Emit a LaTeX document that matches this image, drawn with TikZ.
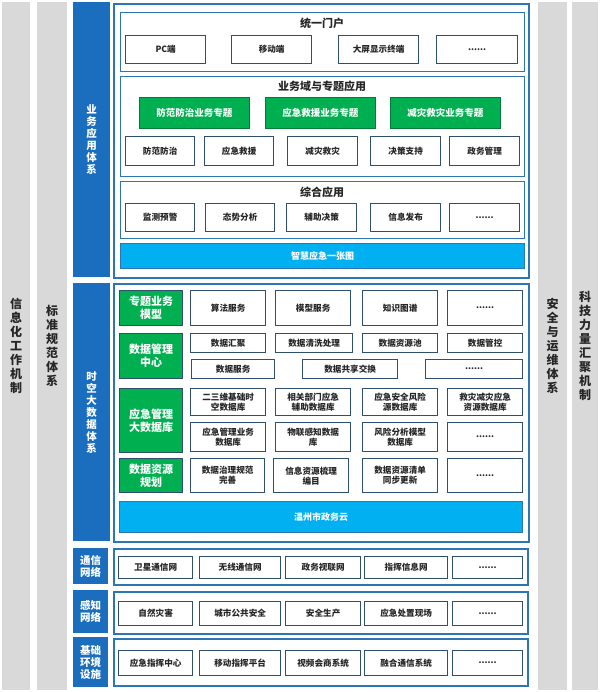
\documentclass[tikz,border=0pt]{standalone}
\usepackage{fontspec}
\newfontfamily\cjk{Noto Sans CJK SC}
\definecolor{lblue}{HTML}{1A6EBD}
\definecolor{fblue}{HTML}{2E75B6}
\definecolor{itc}{HTML}{2F4F6F}
\definecolor{gbar}{HTML}{D9D9D9}
\definecolor{gr}{HTML}{00B050}
\definecolor{cy}{HTML}{00B0F0}
\tikzset{
 item/.style={draw=itc,line width=1.3pt,fill=white,font=\cjk\bfseries\fontsize{8.6}{10}\selectfont,align=center,inner sep=0pt,text=black!85},
 panel/.style={draw=fblue,line width=1.3pt,fill=white,inner sep=0pt},
 frame/.style={draw=fblue,line width=2pt,fill=white,inner sep=0pt},
 lbar/.style={fill=lblue,draw=none,text=white,font=\cjk\bfseries\fontsize{10.5}{12}\selectfont,align=center,inner sep=0pt},
 gbarst/.style={fill=gbar,draw=none,text=black!85,font=\cjk\bfseries\fontsize{12}{14}\selectfont,align=center,inner sep=0pt},
 grn/.style={fill=gr,draw=gr!70!black,line width=0.6pt,text=white,font=\cjk\bfseries\fontsize{9.5}{11.5}\selectfont,align=center,inner sep=0pt},
 glab/.style={fill=gr,draw=itc,line width=1.3pt,text=white,font=\cjk\bfseries\fontsize{11}{13}\selectfont,align=center,inner sep=0pt},
 cyb/.style={fill=cy,draw=fblue,line width=1pt,text=white,font=\cjk\bfseries\fontsize{9}{11}\selectfont,align=center,inner sep=0pt},
 ttl/.style={font=\cjk\bfseries\fontsize{11}{13}\selectfont,text=black!85,inner sep=0pt}
}
\newcommand\bx[7][item]{\node[#1,anchor=north west,minimum width={(#5-#3)*1pt},minimum height={(#6-#4)*1pt}] (#2) at (#3,#4) {#7};}
\begin{document}
\begin{tikzpicture}[x=1pt,y=-1pt]
\useasboundingbox (0,0) rectangle (600,692);
% grey side bars
\bx[gbarst]{g1}{2}{2}{30}{690}{信\\息\\化\\工\\作\\机\\制}
\bx[gbarst]{g2}{37}{2}{67}{690}{标\\准\\规\\范\\体\\系}
\bx[gbarst]{g3}{538}{2}{567}{690}{安\\全\\与\\运\\维\\体\\系}
\bx[gbarst]{g4}{572}{2}{598}{690}{科\\技\\力\\量\\汇\\聚\\机\\制}
% section 1
\bx[lbar]{l1}{73}{2}{110}{277}{业\\务\\应\\用\\体\\系}
\bx[frame]{f1}{113}{3}{528}{277}{}
\bx[panel]{p1}{120}{12}{524}{71}{}
\node[ttl] (t1) at (322,23) {统一门户};
\bx{a1}{125}{35}{205}{63}{PC端}
\bx{a2}{231}{35}{311}{63}{移动端}
\bx{a3}{338}{35}{418}{63}{大屏显示终端}
\bx{a4}{436}{35}{517}{63}{......}
\bx[panel]{p2}{120}{76}{524}{176}{}
\node[ttl] (t2) at (322,86) {业务域与专题应用};
\bx[grn]{b1}{139}{97}{249}{128}{防范防治业务专题}
\bx[grn]{b2}{265}{97}{375}{128}{应急救援业务专题}
\bx[grn]{b3}{390}{97}{500}{128}{减灾救灾业务专题}
\bx{c1}{125}{136}{194}{165}{防范防治}
\bx{c2}{204}{136}{273}{165}{应急救援}
\bx{c3}{287}{136}{357}{165}{减灾救灾}
\bx{c4}{370}{136}{440}{165}{决策支持}
\bx{c5}{449}{136}{519}{165}{政务管理}
\bx[panel]{p3}{120}{181}{524}{238}{}
\node[ttl] (t3) at (322,192) {综合应用};
\bx{d1}{125}{203}{194}{231}{监测预警}
\bx{d2}{205}{203}{274}{231}{态势分析}
\bx{d3}{286}{203}{356}{231}{辅助决策}
\bx{d4}{370}{203}{440}{231}{信息发布}
\bx{d5}{449}{203}{519}{231}{......}
\bx[cyb]{e1}{120}{243}{524}{268}{智慧应急一张图}
% section 2
\bx[lbar]{l2}{73}{283}{110}{541}{时\\空\\大\\数\\据\\体\\系}
\bx[frame]{f2}{113}{283}{528}{541}{}
\bx[glab]{h1}{119}{290}{182}{325}{专题业务\\模型}
\bx{i1}{190}{290}{265}{325}{算法服务}
\bx{i2}{275}{290}{350}{325}{模型服务}
\bx{i3}{362}{290}{437}{325}{知识图谱}
\bx{i4}{447}{290}{522}{325}{......}
\bx[glab]{h2}{119}{333}{182}{378}{数据管理\\中心}
\bx{j1}{190}{333}{265}{352}{数据汇聚}
\bx{j2}{275}{333}{352}{352}{数据清洗处理}
\bx{j3}{362}{333}{437}{352}{数据资源池}
\bx{j4}{447}{333}{522}{352}{数据管控}
\bx{j5}{191}{359}{274}{378}{数据服务}
\bx{j6}{302}{359}{397}{378}{数据共享交换}
\bx{j7}{425}{359}{522}{378}{......}
\bx[glab]{h3}{119}{388}{182}{452}{应急管理\\大数据库}
\bx{k1}{190}{388}{265}{415}{二三维基础时\\空数据库}
\bx{k2}{275}{388}{350}{415}{相关部门应急\\辅助数据库}
\bx{k3}{362}{388}{437}{415}{应急安全风险\\源数据库}
\bx{k4}{447}{388}{522}{415}{救灾减灾应急\\资源数据库}
\bx{k5}{190}{422}{265}{451}{应急管理业务\\数据库}
\bx{k6}{275}{422}{350}{451}{物联感知数据\\库}
\bx{k7}{362}{422}{437}{451}{风险分析模型\\数据库}
\bx{k8}{447}{422}{522}{451}{......}
\bx[glab]{h4}{119}{458}{182}{492}{数据资源\\规划}
\bx{m1}{190}{458}{264}{492}{数据治理规范\\完善}
\bx{m2}{273}{458}{348}{492}{信息资源梳理\\编目}
\bx{m3}{362}{458}{437}{492}{数据资源清单\\同步更新}
\bx{m4}{447}{458}{522}{492}{......}
\bx[cyb]{e2}{119}{501}{522}{532}{温州市政务云}
% section 3
\bx[lbar]{l3}{73}{548}{108}{584}{通信\\网络}
\bx[frame]{f3}{113}{548}{527}{584}{}
\bx{n1}{118}{556}{192}{578}{卫星通信网}
\bx{n2}{199}{556}{280}{578}{无线通信网}
\bx{n3}{285}{556}{360}{578}{政务视联网}
\bx{n4}{364}{556}{447}{578}{指挥信息网}
\bx{n5}{452}{556}{522}{578}{......}
\bx[lbar]{l4}{73}{590}{108}{633}{感知\\网络}
\bx[frame]{f4}{113}{591}{527}{633}{}
\bx{o1}{118}{601}{192}{625}{自然灾害}
\bx{o2}{199}{601}{280}{625}{城市公共安全}
\bx{o3}{285}{601}{360}{625}{安全生产}
\bx{o4}{364}{601}{447}{625}{应急处置现场}
\bx{o5}{452}{601}{522}{625}{......}
\bx[lbar]{l5}{73}{637}{108}{687}{基础\\环境\\设施}
\bx[frame]{f5}{113}{638}{527}{685}{}
\bx{q1}{118}{650}{192}{675}{应急指挥中心}
\bx{q2}{199}{650}{280}{675}{移动指挥平台}
\bx{q3}{285}{650}{360}{675}{视频会商系统}
\bx{q4}{364}{650}{447}{675}{融合通信系统}
\bx{q5}{452}{650}{522}{675}{......}
\end{tikzpicture}
\end{document}
